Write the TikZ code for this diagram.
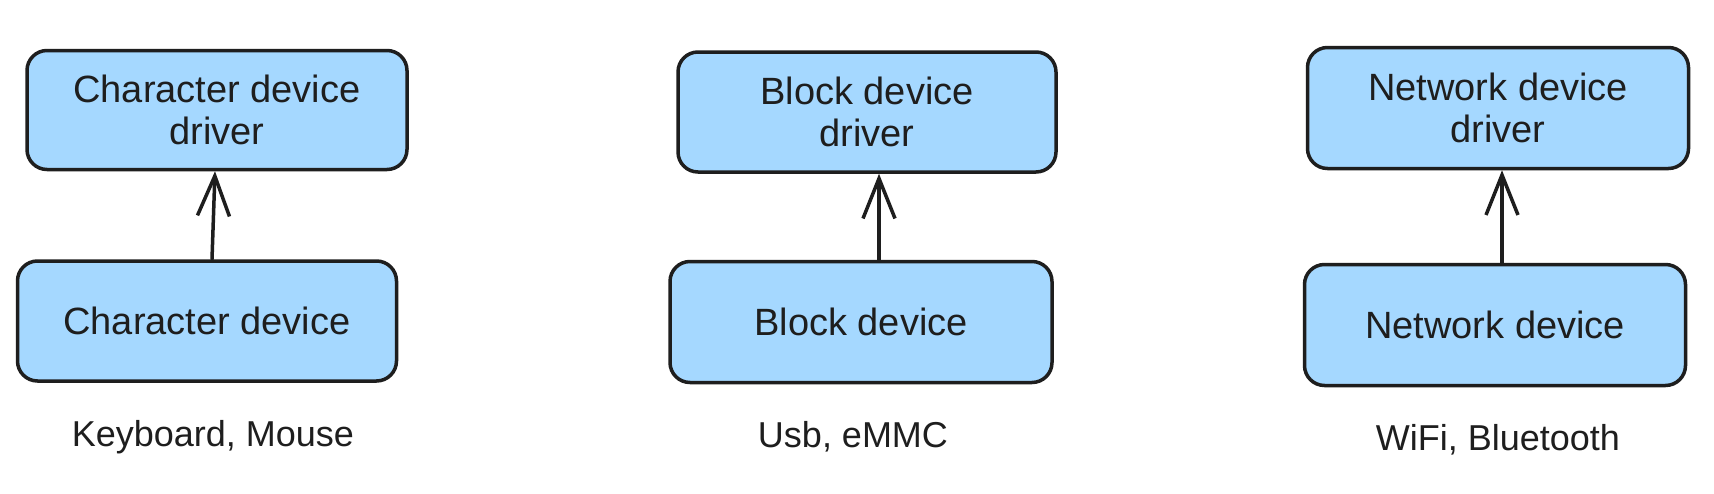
\documentclass[tikz,border=0pt]{standalone}
\usepackage{fontspec}
\setmainfont{Liberation Sans}
\usetikzlibrary{arrows.meta}
\definecolor{boxfill}{HTML}{A5D8FF}
\definecolor{ink}{HTML}{1E1E1E}
\tikzset{
  devbox/.style={draw=ink, fill=boxfill, line width=3.5pt, rounded corners=20pt,
    minimum width=380pt, minimum height=120pt, inner sep=0pt, align=center,
    font=\fontsize{38}{42}\selectfont, text=ink},
  lbl/.style={font=\fontsize{36}{40}\selectfont, text=ink, inner sep=0pt},
  link/.style={draw=ink, line width=3.5pt, line cap=round,
    -{Straight Barb[length=40pt, width=32pt, line width=3.5pt]}}
}
\begin{document}
\begin{tikzpicture}[x=1pt, y=-1pt]
\useasboundingbox[fill=white] (0,0) rectangle (1714,493);
% Character
\node[devbox, minimum width=380pt, minimum height=119pt] (cdrv) at (217,110) {Character device\\driver};
\node[devbox, minimum width=379pt] (cdev) at (207,321) {Character device};
\node[lbl] (clbl) at (213,437) {Keyboard, Mouse};
% Block
\node[devbox, minimum width=378pt] (bdrv) at (867,112) {Block device\\driver};
\node[devbox, minimum width=382pt, minimum height=121pt] (bdev) at (861,322) {Block device};
\node[lbl] (blbl) at (853,437) {Usb, eMMC};
% Network
\node[devbox, minimum width=381pt, minimum height=121pt] (ndrv) at (1498,108) {Network device\\driver};
\node[devbox, minimum width=381pt, minimum height=121pt] (ndev) at (1495,325) {Network device};
\node[lbl] (nlbl) at (1498,440) {WiFi, Bluetooth};
% Arrows
\draw[link] ([xshift=5pt]cdev.north) -- ([xshift=-2pt]cdrv.south);
\draw[link] ([xshift=18pt]bdev.north) -- ([xshift=12pt]bdrv.south);
\draw[link] ([xshift=7pt]ndev.north) -- ([xshift=4pt]ndrv.south);
\end{tikzpicture}
\end{document}
